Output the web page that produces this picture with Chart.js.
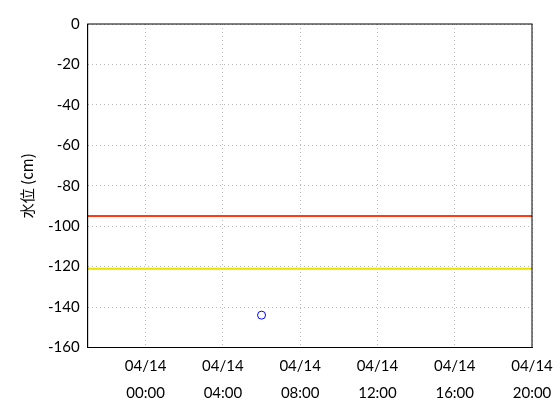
<!DOCTYPE html>
<html>
<head>
<meta charset="utf-8">
<script src="https://cdn.jsdelivr.net/npm/chart.js@4"></script>
<style>
  body { margin: 0; background: #fff; }
  #wrap { width: 560px; height: 420px; }
</style>
</head>
<body>
<div id="wrap"><canvas id="levelChart"></canvas></div>
<script>
// hours relative to 04/14 00:00
const xTicks = [0, 4, 8, 12, 16, 20];
const xLabels = ['04/14\n00:00', '04/14\n04:00', '04/14\n08:00', '04/14\n12:00', '04/14\n16:00', '04/14\n20:00'];
const xRange = [-3, 20];
const warnLevel = -95;
const alertLevel = -121;
const obsTimes = [6];
const obsLevels = [-144];

const boxPlugin = {
    id: 'box',
    afterDraw(chart) {
        const a = chart.chartArea, ctx = chart.ctx;
        ctx.save();
        ctx.strokeStyle = '#000';
        ctx.lineWidth = 1;
        ctx.strokeRect(a.left, a.top, a.right - a.left, a.bottom - a.top);
        ctx.restore();
    }
};

const ctx = document.getElementById('levelChart').getContext('2d');
new Chart(ctx, {
    type: 'scatter',
    data: {
        datasets: [{
            data: xRange.map(x => ({ x: x, y: warnLevel })),
            showLine: true,
            borderColor: '#ff3a14',
            borderWidth: 2,
            pointRadius: 0
        }, {
            data: xRange.map(x => ({ x: x, y: alertLevel })),
            showLine: true,
            borderColor: '#e8e000',
            borderWidth: 2,
            pointRadius: 0
        }, {
            data: obsTimes.map((t, i) => ({ x: t, y: obsLevels[i] })),
            borderColor: '#0000ff',
            backgroundColor: 'rgba(0,0,0,0)',
            borderWidth: 1,
            pointRadius: 4
        }]
    },
    plugins: [boxPlugin],
    options: {
        responsive: true,
        maintainAspectRatio: false,
        animation: false,
        layout: { padding: { top: 24, right: 28, left: 14, bottom: 8 } },
        plugins: { legend: { display: false }, tooltip: { enabled: false } },
        scales: {
            x: {
                type: 'linear',
                min: xRange[0],
                max: xRange[1],
                afterBuildTicks(axis) { axis.ticks = xTicks.map(v => ({ value: v })); },
                ticks: {
                    color: '#000',
                    padding: 6,
                    font: { family: 'Lato', size: 15, lineHeight: 1.75 },
                    maxRotation: 0,
                    callback: v => xLabels[xTicks.indexOf(v)].split('\n')
                },
                grid: { color: '#bbb', tickLength: 0, drawTicks: false },
                border: { color: '#000', dash: [1, 3] }
            },
            y: {
                min: -160,
                max: 0,
                ticks: { stepSize: 20, color: '#000', padding: 8, font: { family: 'Lato', size: 15 } },
                grid: { color: '#bbb', drawTicks: false },
                border: { color: '#000', dash: [1, 3] },
                title: { display: true, text: '水位 (cm)', color: '#000', font: { family: 'Noto Sans CJK JP', size: 15 } }
            }
        }
    }
});
</script>
</body>
</html>
